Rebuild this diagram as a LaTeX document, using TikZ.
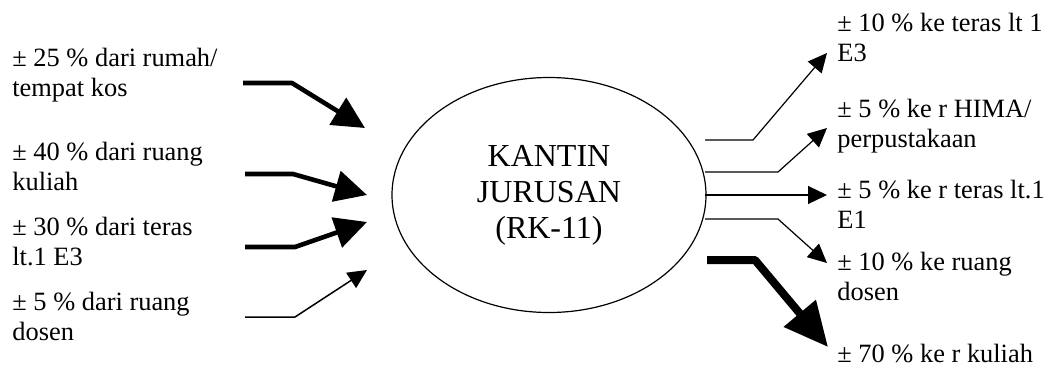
\documentclass[tikz,border=0pt]{standalone}
\usepackage{fontspec}
\setmainfont{Liberation Serif}
\usetikzlibrary{shapes,arrows.meta,positioning,calc}

\tikzset{
  lbl/.style={inner sep=0pt, align=left, font=\fontsize{13.2}{15}\selectfont},
  flowthin/.style={line width=0.6pt, -{Triangle[length=9.5pt,width=9pt]}},
  flowthick/.style={line width=2.3pt, line join=round, -{Triangle[length=16pt,width=15.5pt]}},
  flowfat/.style={line width=4pt, line join=round, -{Triangle[length=22pt,width=20pt]}}
}

\begin{document}
\begin{tikzpicture}[x=0.5pt, y=-0.5pt]
  \useasboundingbox (0,0) rectangle (1057,372);
  \node[draw, ellipse, line width=0.6pt, minimum width=157pt, minimum height=117.5pt,
        align=center, font=\fontsize{16}{18}\selectfont] (kantin) at (549,195)
        {KANTIN\\JURUSAN\\(RK-11)};

  % asal
  \node[lbl, anchor=base west] (src1) at (12,96) {± 25 \% dari rumah/\\tempat kos};
  \node[lbl, anchor=base west] (src2) at (12,190) {± 40 \% dari ruang\\kuliah};
  \node[lbl, anchor=base west] (src3) at (12,265) {± 30 \% dari teras\\lt.1 E3};
  \node[lbl, anchor=base west] (src4) at (12,340) {± 5 \% dari ruang\\dosen};

  % tujuan
  \node[lbl, anchor=base west] (dst1) at (837,61) {± 10 \% ke teras lt 1\\E3};
  \node[lbl, anchor=base west] (dst2) at (837,147) {± 5 \% ke r HIMA/\\perpustakaan};
  \node[lbl, anchor=base west] (dst3) at (837,228) {± 5 \% ke r teras lt.1\\E1};
  \node[lbl, anchor=base west] (dst4) at (837,300) {± 10 \% ke ruang\\dosen};
  \node[lbl, anchor=base west] (dst5) at (837,362) {± 70 \% ke r kuliah};

  \coordinate (in1a) at (243,83);  \coordinate (in1b) at (292,83);  \coordinate (in1c) at (365,128);
  \coordinate (in2a) at (245,174); \coordinate (in2b) at (293,174); \coordinate (in2c) at (367,195);
  \coordinate (in3a) at (245,247); \coordinate (in3b) at (295,247); \coordinate (in3c) at (367,222);
  \coordinate (in4a) at (245,317); \coordinate (in4b) at (295,317); \coordinate (in4c) at (367,270);

  \coordinate (out1a) at (705,140); \coordinate (out1b) at (753,140); \coordinate (out1c) at (827,53);
  \coordinate (out2a) at (705,172); \coordinate (out2b) at (778,172); \coordinate (out2c) at (827,128);
  \coordinate (out3a) at (705,195); \coordinate (out3c) at (827,195);
  \coordinate (out4a) at (705,219); \coordinate (out4b) at (778,219); \coordinate (out4c) at (827,263);
  \coordinate (out5a) at (707,260); \coordinate (out5b) at (755,260); \coordinate (out5c) at (828,347);

  \draw[flowthick] (in1a) -- (in1b) -- (in1c);
  \draw[flowthick] (in2a) -- (in2b) -- (in2c);
  \draw[flowthick] (in3a) -- (in3b) -- (in3c);
  \draw[flowthin, line width=0.75pt] (in4a) -- (in4b) -- (in4c);

  \draw[flowthin] (out1a) -- (out1b) -- (out1c);
  \draw[flowthin] (out2a) -- (out2b) -- (out2c);
  \draw[flowthin] (out3a) -- (out3c);
  \draw[flowthin] (out4a) -- (out4b) -- (out4c);
  \draw[flowfat] (out5a) -- (out5b) -- (out5c);
\end{tikzpicture}
\end{document}
